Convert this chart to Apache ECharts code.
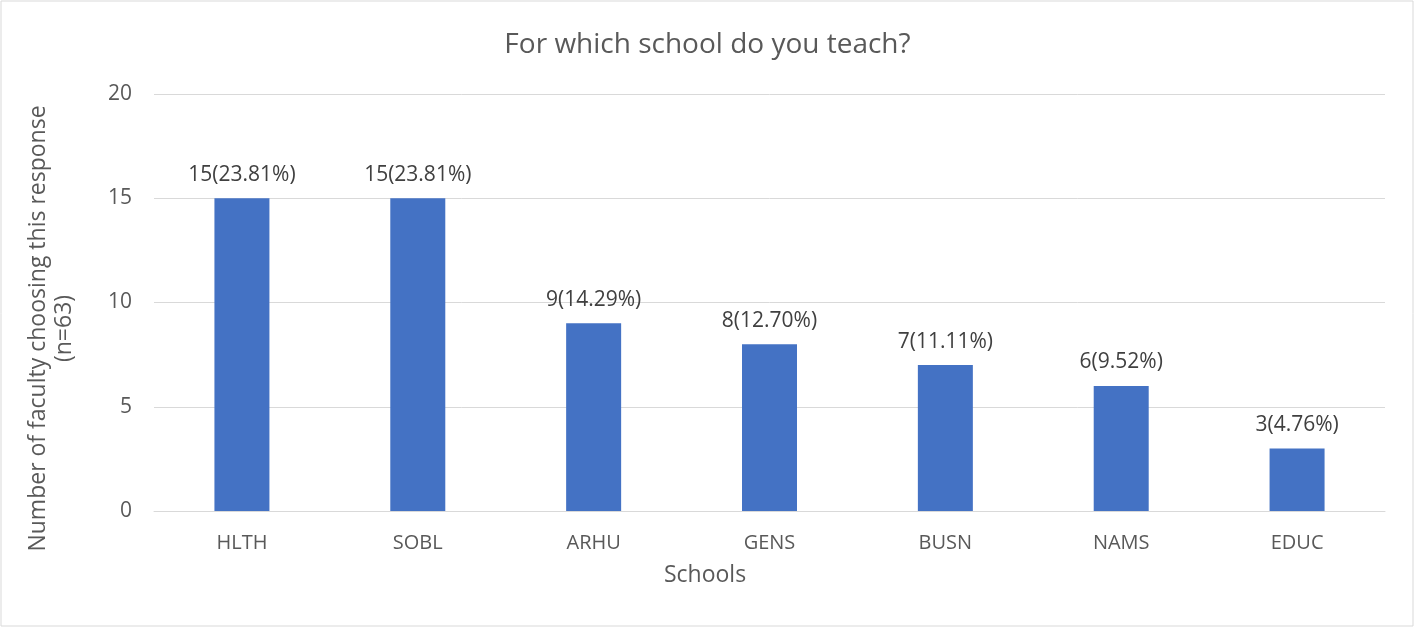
<!DOCTYPE html>
<html><head><meta charset="utf-8">
<script src="https://cdn.jsdelivr.net/npm/echarts@6/dist/echarts.min.js"></script>
<style>html,body{margin:0;padding:0;background:#fff}#c{width:1415px;height:628px}</style>
</head><body><div id="c"></div>
<script>
const categories = ['HLTH','SOBL','ARHU','GENS','BUSN','NAMS','EDUC'];
const counts = [15,15,9,8,7,6,3];
const percents = ['23.81%','23.81%','14.29%','12.70%','11.11%','9.52%','4.76%'];
const yTicks = [0,5,10,15,20];
const titleText = 'For which school do you teach?';
const xName = 'Schools';
const yName = 'Number of faculty choosing this response\n(n=63)';

const font = 'Open Sans';
const chart = echarts.init(document.getElementById('c'));
chart.setOption({
  backgroundColor:'#fff',
  graphic:[{type:'rect',shape:{x:1,y:1,width:1412,height:625},style:{fill:'none',stroke:'#d9d9d9',lineWidth:1}}],
  title:{text:titleText,left:'center',top:26,textStyle:{fontFamily:font,fontSize:28,fontWeight:'normal',color:'#595959'}},
  grid:{left:154,right:30,top:94,bottom:117},
  xAxis:{type:'category',data:categories,name:xName,nameLocation:'middle',nameGap:53,
    nameTextStyle:{fontFamily:font,fontSize:23,color:'#595959',padding:[0,129,0,0]},
    axisLine:{lineStyle:{color:'#d9d9d9',width:1}},axisTick:{show:false},
    axisLabel:{fontFamily:font,fontSize:20,color:'#595959',margin:22}},
  yAxis:{type:'value',min:yTicks[0],max:yTicks[yTicks.length-1],interval:5,
    name:yName,nameLocation:'middle',nameGap:77,nameRotate:90,
    nameTextStyle:{fontFamily:font,fontSize:23,color:'#595959',lineHeight:26,padding:[0,52,0,0]},
    axisLine:{show:false},axisTick:{show:false},
    splitLine:{lineStyle:{color:'#d9d9d9',width:1}},
    axisLabel:{fontFamily:font,fontSize:21,color:'#595959',margin:22}},
  series:[{type:'bar',data:counts,barWidth:55,itemStyle:{color:'#4472c4'},
    label:{show:true,position:'top',distance:13,fontFamily:font,fontSize:21,color:'#404040',
      formatter:p=>p.value+'('+percents[p.dataIndex]+')'}}],
  animation:false
});
</script></body></html>
